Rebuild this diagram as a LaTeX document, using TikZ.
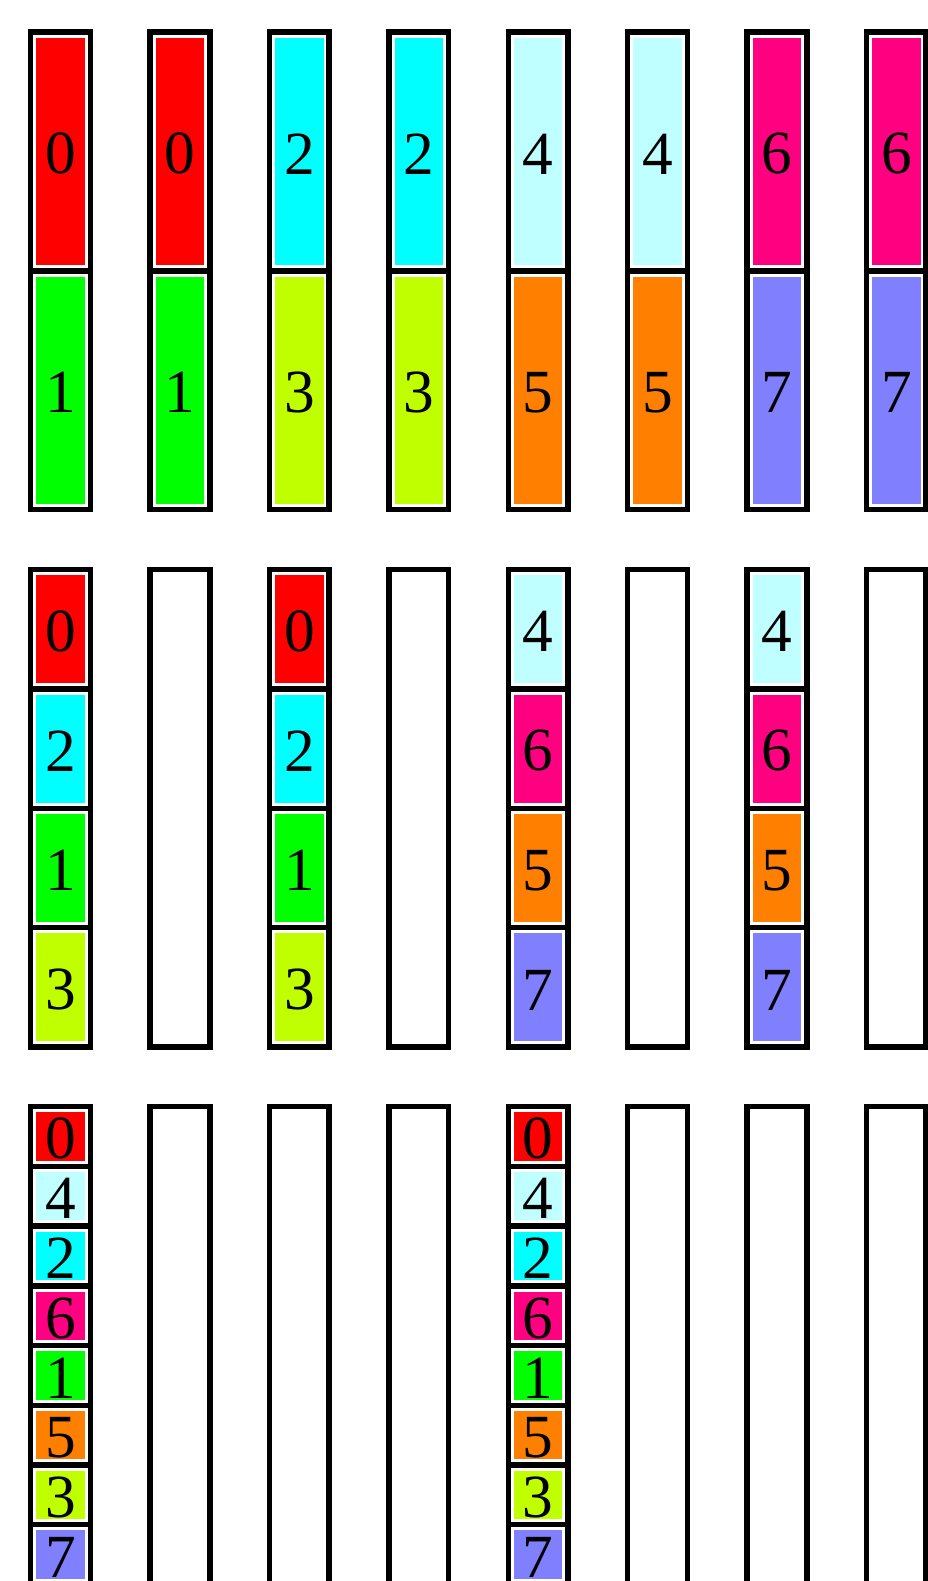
\documentclass[tikz,border=0pt]{standalone}
\usepackage{fontspec}
\setmainfont{Liberation Serif}

\definecolor{lab0}{HTML}{FF0000}
\definecolor{lab1}{HTML}{00FF00}
\definecolor{lab2}{HTML}{00FFFF}
\definecolor{lab3}{HTML}{C0FF00}
\definecolor{lab4}{HTML}{C0FFFF}
\definecolor{lab5}{HTML}{FF8000}
\definecolor{lab6}{HTML}{FF0080}
\definecolor{lab7}{HTML}{8080FF}

\begin{document}
\begin{tikzpicture}[
  x=44.78pt, y=-44.78pt,
  frame/.style={draw=black, line width=4.1pt},
  cell/.style={draw=white, line width=2.25pt, inner sep=0pt, minimum width=38.5pt,
    text height=34pt, font=\fontsize{46}{46}\selectfont},
  big/.style={cell, minimum height=172.8pt},
  med/.style={cell, minimum height=83.3pt},
  sml/.style={cell, minimum height=38.5pt}
  ]

  \useasboundingbox (-0.514,-0.538) rectangle (15.030,25.944);
  \clip (-0.514,-0.538) rectangle (15.030,25.944);

  % first row: two slots per column
  \node[big, fill=lab0] (00a) at (0.5,2) {0};
  \node[big, fill=lab1] (00b) at (0.5,6) {1};
  \node[big, fill=lab0] (01a) at (2.5,2) {0};
  \node[big, fill=lab1] (01b) at (2.5,6) {1};
  \node[big, fill=lab2] (02a) at (4.5,2) {2};
  \node[big, fill=lab3] (02b) at (4.5,6) {3};
  \node[big, fill=lab2] (03a) at (6.5,2) {2};
  \node[big, fill=lab3] (03b) at (6.5,6) {3};
  \node[big, fill=lab4] (04a) at (8.5,2) {4};
  \node[big, fill=lab5] (04b) at (8.5,6) {5};
  \node[big, fill=lab4] (05a) at (10.5,2) {4};
  \node[big, fill=lab5] (05b) at (10.5,6) {5};
  \node[big, fill=lab6] (06a) at (12.5,2) {6};
  \node[big, fill=lab7] (06b) at (12.5,6) {7};
  \node[big, fill=lab6] (07a) at (14.5,2) {6};
  \node[big, fill=lab7] (07b) at (14.5,6) {7};

  \draw[frame] (0,0) rectangle (1,8) (0,4) -- (1,4);
  \draw[frame] (2,0) rectangle (3,8) (2,4) -- (3,4);
  \draw[frame] (4,0) rectangle (5,8) (4,4) -- (5,4);
  \draw[frame] (6,0) rectangle (7,8) (6,4) -- (7,4);
  \draw[frame] (8,0) rectangle (9,8) (8,4) -- (9,4);
  \draw[frame] (10,0) rectangle (11,8) (10,4) -- (11,4);
  \draw[frame] (12,0) rectangle (13,8) (12,4) -- (13,4);
  \draw[frame] (14,0) rectangle (15,8) (14,4) -- (15,4);

  % second row: four slots, every other column empty
  \node[med, fill=lab0] (10a) at (0.5,10) {0};
  \node[med, fill=lab2] (10b) at (0.5,12) {2};
  \node[med, fill=lab1] (10c) at (0.5,14) {1};
  \node[med, fill=lab3] (10d) at (0.5,16) {3};

  \node[med, fill=lab0] (12a) at (4.5,10) {0};
  \node[med, fill=lab2] (12b) at (4.5,12) {2};
  \node[med, fill=lab1] (12c) at (4.5,14) {1};
  \node[med, fill=lab3] (12d) at (4.5,16) {3};

  \node[med, fill=lab4] (14a) at (8.5,10) {4};
  \node[med, fill=lab6] (14b) at (8.5,12) {6};
  \node[med, fill=lab5] (14c) at (8.5,14) {5};
  \node[med, fill=lab7] (14d) at (8.5,16) {7};

  \node[med, fill=lab4] (16a) at (12.5,10) {4};
  \node[med, fill=lab6] (16b) at (12.5,12) {6};
  \node[med, fill=lab5] (16c) at (12.5,14) {5};
  \node[med, fill=lab7] (16d) at (12.5,16) {7};

  \draw[frame] (0,9) rectangle (1,17) (0,11) -- (1,11) (0,13) -- (1,13) (0,15) -- (1,15);
  \draw[frame] (2,9) rectangle (3,17);
  \draw[frame] (4,9) rectangle (5,17) (4,11) -- (5,11) (4,13) -- (5,13) (4,15) -- (5,15);
  \draw[frame] (6,9) rectangle (7,17);
  \draw[frame] (8,9) rectangle (9,17) (8,11) -- (9,11) (8,13) -- (9,13) (8,15) -- (9,15);
  \draw[frame] (10,9) rectangle (11,17);
  \draw[frame] (12,9) rectangle (13,17) (12,11) -- (13,11) (12,13) -- (13,13) (12,15) -- (13,15);
  \draw[frame] (14,9) rectangle (15,17);

  % third row: eight slots, only columns 0 and 4 filled
  \node[sml, fill=lab0] (20a) at (0.5,18.5) {0};
  \node[sml, fill=lab4] (20b) at (0.5,19.5) {4};
  \node[sml, fill=lab2] (20c) at (0.5,20.5) {2};
  \node[sml, fill=lab6] (20d) at (0.5,21.5) {6};
  \node[sml, fill=lab1] (20e) at (0.5,22.5) {1};
  \node[sml, fill=lab5] (20f) at (0.5,23.5) {5};
  \node[sml, fill=lab3] (20g) at (0.5,24.5) {3};
  \node[sml, fill=lab7] (20h) at (0.5,25.5) {7};

  \node[sml, fill=lab0] (24a) at (8.5,18.5) {0};
  \node[sml, fill=lab4] (24b) at (8.5,19.5) {4};
  \node[sml, fill=lab2] (24c) at (8.5,20.5) {2};
  \node[sml, fill=lab6] (24d) at (8.5,21.5) {6};
  \node[sml, fill=lab1] (24e) at (8.5,22.5) {1};
  \node[sml, fill=lab5] (24f) at (8.5,23.5) {5};
  \node[sml, fill=lab3] (24g) at (8.5,24.5) {3};
  \node[sml, fill=lab7] (24h) at (8.5,25.5) {7};

  \draw[frame] (0,18) rectangle (1,26) (0,19) -- (1,19) (0,20) -- (1,20) (0,21) -- (1,21)
    (0,22) -- (1,22) (0,23) -- (1,23) (0,24) -- (1,24) (0,25) -- (1,25);
  \draw[frame] (2,18) rectangle (3,26);
  \draw[frame] (4,18) rectangle (5,26);
  \draw[frame] (6,18) rectangle (7,26);
  \draw[frame] (8,18) rectangle (9,26) (8,19) -- (9,19) (8,20) -- (9,20) (8,21) -- (9,21)
    (8,22) -- (9,22) (8,23) -- (9,23) (8,24) -- (9,24) (8,25) -- (9,25);
  \draw[frame] (10,18) rectangle (11,26);
  \draw[frame] (12,18) rectangle (13,26);
  \draw[frame] (14,18) rectangle (15,26);

\end{tikzpicture}
\end{document}
